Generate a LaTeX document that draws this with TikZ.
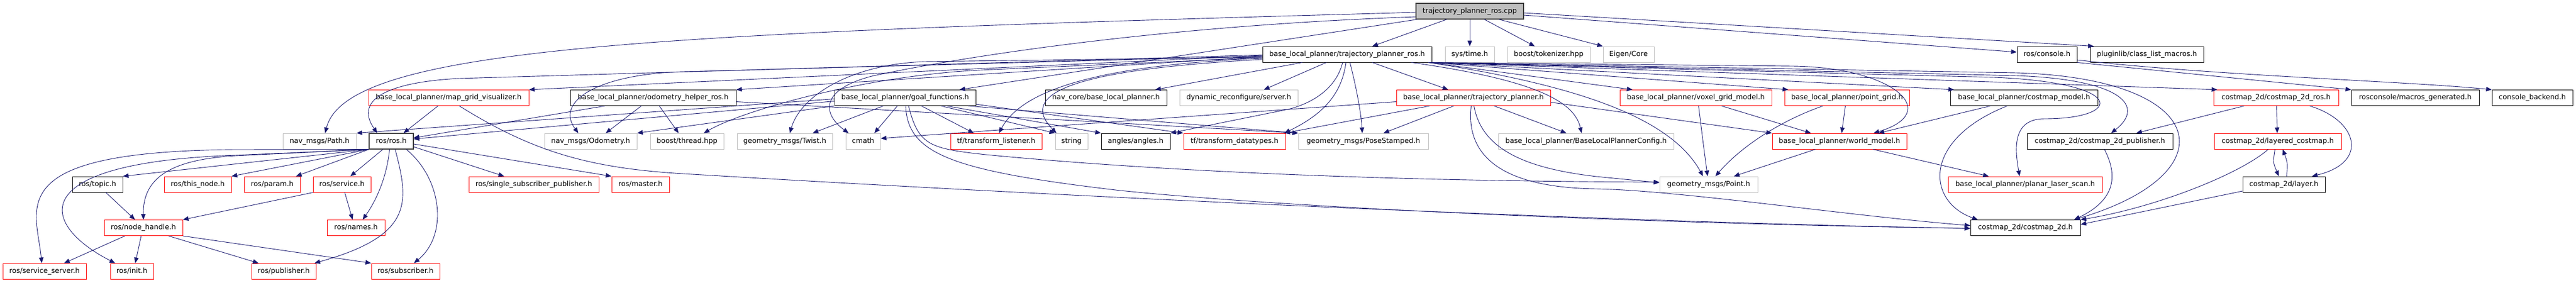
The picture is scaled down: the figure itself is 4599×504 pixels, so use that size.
\documentclass[tikz,border=0pt]{standalone}
\usepackage{fontspec}
\setmainfont{DejaVu Sans}
\usetikzlibrary{arrows.meta}
\definecolor{edgec}{HTML}{191970}
\definecolor{grayb}{HTML}{BFBFBF}
\definecolor{redb}{HTML}{FF0000}
\definecolor{darkb}{HTML}{404040}
\begin{document}
\begin{tikzpicture}[x=1pt,y=-1pt,
 box/.style={draw, rectangle, minimum height=28pt, inner sep=0pt, line width=1pt,
   font=\fontsize{12.6}{15}\selectfont, text height=9.3pt, text depth=2.7pt, fill=white},
 rb/.style={box, draw=redb},
 gb/.style={box, draw=grayb},
 kb/.style={box, draw=black},
 e/.style={draw=edgec, line width=0.9pt, -{Triangle[length=10pt,width=8pt]}},
]
\useasboundingbox (0,0) rectangle (4599,504);
% row 0
\node[box, draw=darkb, fill=grayb, line width=1.2pt, minimum width=192pt] (cpp) at (2624,20) {trajectory\_planner\_ros.cpp};
% row 1
\node[kb, minimum width=302pt] (tpr) at (2405,97) {base\_local\_planner/trajectory\_planner\_ros.h};
\node[gb, minimum width=88pt] (systime) at (2624,97) {sys/time.h};
\node[gb, minimum width=148pt] (tokenizer) at (2765,97) {boost/tokenizer.hpp};
\node[gb, minimum width=91pt] (eigen) at (2907.5,97) {Eigen/Core};
\node[kb, minimum width=107pt] (console) at (3654.5,97) {ros/console.h};
\node[kb, minimum width=202pt] (pluginlib) at (3833,97) {pluginlib/class\_list\_macros.h};
% row 2
\node[rb, minimum width=286pt] (mgv) at (801,174.5) {base\_local\_planner/map\_grid\_visualizer.h};
\node[kb, minimum width=296pt] (odomh) at (1166,174.5) {base\_local\_planner/odometry\_helper\_ros.h};
\node[kb, minimum width=252pt] (goal) at (1616,174.5) {base\_local\_planner/goal\_functions.h};
\node[kb, minimum width=217pt] (navcore) at (1974.5,174.5) {nav\_core/base\_local\_planner.h};
\node[gb, minimum width=211pt] (dynrec) at (2211.5,174.5) {dynamic\_reconfigure/server.h};
\node[rb, minimum width=275pt] (tplanner) at (2630.5,174.5) {base\_local\_planner/trajectory\_planner.h};
\node[rb, minimum width=271pt] (voxel) at (3027.5,174.5) {base\_local\_planner/voxel\_grid\_model.h};
\node[rb, minimum width=223pt] (pointgrid) at (3297.5,174.5) {base\_local\_planner/point\_grid.h};
\node[kb, minimum width=263pt] (costmodel) at (3613.5,174.5) {base\_local\_planner/costmap\_model.h};
\node[rb, minimum width=223pt] (cros) at (4063.5,174.5) {costmap\_2d/costmap\_2d\_ros.h};
\node[kb, minimum width=228pt] (macros) at (4312,174.5) {rosconsole/macros\_generated.h};
\node[kb, minimum width=144pt] (backend) at (4521,174.5) {console\_backend.h};
% row 3
\node[gb, minimum width=131pt] (path) at (570.5,252) {nav\_msgs/Path.h};
\node[kb, draw=darkb, line width=1.2pt, minimum width=79pt] (rosh) at (698.5,252) {ros/ros.h};
\node[gb, minimum width=165pt] (odometry) at (1054.5,252) {nav\_msgs/Odometry.h};
\node[gb, minimum width=131pt] (thread) at (1226.5,252) {boost/thread.hpp};
\node[gb, minimum width=170pt] (twist) at (1401,252) {geometry\_msgs/Twist.h};
\node[gb, minimum width=62pt] (cmath) at (1541,252) {cmath};
\node[rb, minimum width=163pt] (tflisten) at (1778.5,252) {tf/transform\_listener.h};
\node[gb, minimum width=58pt] (string) at (1913,252) {string};
\node[kb, minimum width=123pt] (angles) at (2027.5,252) {angles/angles.h};
\node[rb, minimum width=182pt] (tfdata) at (2204,252) {tf/transform\_datatypes.h};
\node[gb, minimum width=232pt] (posest) at (2434,252) {geometry\_msgs/PoseStamped.h};
\node[gb, minimum width=313pt] (blpconf) at (2831.5,252) {base\_local\_planner/BaseLocalPlannerConfig.h};
\node[rb, minimum width=240pt] (worldm) at (3284,252) {base\_local\_planner/world\_model.h};
\node[kb, minimum width=260pt] (cpub) at (3749,252) {costmap\_2d/costmap\_2d\_publisher.h};
\node[rb, minimum width=227pt] (layered) at (4066.5,252) {costmap\_2d/layered\_costmap.h};
% row 4
\node[kb, minimum width=90pt] (topic) at (174,329) {ros/topic.h};
\node[rb, minimum width=120pt] (thisnode) at (353,329) {ros/this\_node.h};
\node[rb, minimum width=100pt] (param) at (486,329) {ros/param.h};
\node[rb, minimum width=103pt] (service) at (610.5,329) {ros/service.h};
\node[rb, minimum width=232pt] (ssp) at (953,329) {ros/single\_subscriber\_publisher.h};
\node[rb, minimum width=103pt] (master) at (1143.5,329) {ros/master.h};
\node[gb, minimum width=175pt] (point) at (3050.5,329) {geometry\_msgs/Point.h};
\node[rb, minimum width=275pt] (planar) at (3615.5,329) {base\_local\_planner/planar\_laser\_scan.h};
\node[kb, minimum width=147pt] (layer) at (4077.5,329) {costmap\_2d/layer.h};
% row 5
\node[rb, minimum width=140pt] (nodeh) at (256,406.5) {ros/node\_handle.h};
\node[rb, minimum width=103pt] (names) at (635.5,406.5) {ros/names.h};
\node[kb, minimum width=196pt] (costmap) at (3616,406.5) {costmap\_2d/costmap\_2d.h};
% row 6
\node[rb, minimum width=149pt] (srvs) at (79.5,484) {ros/service\_server.h};
\node[rb, minimum width=77pt] (init) at (235.5,484) {ros/init.h};
\node[rb, minimum width=115pt] (publisher) at (506.5,484) {ros/publisher.h};
\node[rb, minimum width=122pt] (subscriber) at (724,484) {ros/subscriber.h};

% ---- edges from cpp
\draw[e] ([xshift=-41pt]cpp.south) -- ([xshift=45pt]tpr.north);
\draw[e] (cpp.south) -- (systime.north);
\draw[e] ([xshift=26pt]cpp.south) -- ([xshift=-25pt]tokenizer.north);
\draw[e] ([xshift=52pt]cpp.south) -- (eigen.north west);
\draw[e] ([yshift=-7pt]cpp.east) -- ([yshift=4pt]console.west);
\draw[e] ([yshift=-3pt]cpp.east) -- ([xshift=-95pt]pluginlib.north);
\draw[e] ([yshift=-2pt]cpp.west) .. controls (1200,59) and (620,80) .. ([xshift=10pt]path.north);
\draw[e] ([xshift=-94pt]cpp.south) -- ([xshift=97pt]goal.north);
\draw[e] ([yshift=-10pt]cpp.west) .. controls (2100,45) and (1750,95) .. (1560,135) .. controls (1460,160) and (1470,205) .. ([xshift=-26pt]cmath.north);

% ---- edges from trajectory_planner_ros.h
\draw[e] ([xshift=45pt]tpr.south) -- ([xshift=-45pt]tplanner.north);
\draw[e] ([xshift=5pt]tpr.south) .. controls (2420,150) and (2430,200) .. ([xshift=-2pt]posest.north);
\draw[e] ([xshift=-37pt]tpr.south) -- ([xshift=45pt]dynrec.north);
\draw[e] ([xshift=-80pt]tpr.south) -- ([xshift=88pt]navcore.north);
\draw[e] ([xshift=-8pt]tpr.south) .. controls (2385,160) and (2340,185) .. (2300,195) -- (angles.north east);
\draw[e] ([xshift=-2pt]tpr.south) .. controls (2395,170) and (2360,205) .. ([xshift=89pt]tfdata.north);
\draw[e] ([xshift=115pt]tpr.south) .. controls (2720,140) and (2810,175) .. ([xshift=-8pt]blpconf.north);
\draw[e] ([xshift=-6pt]tpr.south east) .. controls (2800,150) and (2980,205) .. ([xshift=-10pt]point.north);
\draw[e] ([xshift=-6pt]tpr.south east) -- ([xshift=-113pt]voxel.north);
\draw[e] ([xshift=-6pt]tpr.south east) -- ([xshift=-105pt]pointgrid.north);
\draw[e] ([xshift=-6pt]tpr.south east) -- (3200,118) .. controls (3380,120) and (3470,200) .. ([xshift=61pt]worldm.north);
\draw[e] ([xshift=-6pt]tpr.south east) -- ([xshift=-125pt]costmodel.north);
\draw[e] ([xshift=-6pt]tpr.south east) -- (3560,138) .. controls (3800,148) and (3790,212) .. (3650,212) .. controls (3590,212) and (3598,270) .. ([xshift=-10pt]planar.north);
\draw[e] ([xshift=-6pt]tpr.south east) -- (3600,135) .. controls (3790,142) and (3830,190) .. ([xshift=20pt]cpub.north);
\draw[e] ([xshift=-6pt]tpr.south east) -- (3600,130) .. controls (3950,140) and (3980,310) .. ([xshift=87pt]costmap.north);
\draw[e] ([xshift=-6pt]tpr.south east) -- ([xshift=-105pt]cros.north);
\draw[e] ([yshift=-2pt]tpr.west) -- (mgv.north east);
\draw[e] ([yshift=-1pt]tpr.west) -- (820,140) .. controls (700,146) and (630,175) .. ([xshift=-25pt]rosh.north);
\draw[e] ([yshift=-4pt]tpr.west) -- (odomh.north east);
\draw[e] ([yshift=-3pt]tpr.west) -- (1220,128) .. controls (1070,132) and (990,180) .. ([xshift=-22pt]odometry.north);
\draw[e] ([yshift=-6pt]tpr.west) -- (1750,125) .. controls (1550,135) and (1330,195) .. ([xshift=30pt]thread.north);
\draw[e] ([yshift=-5pt]tpr.west) -- (1650,110) .. controls (1520,115) and (1430,170) .. ([xshift=9pt]twist.north);
\draw[e] ([yshift=-7pt]tpr.west) .. controls (2000,115) and (1830,150) .. ([xshift=5pt]tflisten.north);
\draw[e] ([yshift=-9pt]tpr.west) .. controls (1900,125) and (1820,170) .. ([xshift=-27pt]string.north);

% ---- trajectory_planner.h
\draw[e] ([xshift=-35pt]tplanner.south) -- ([xshift=36pt]posest.north);
\draw[e] ([xshift=37pt]tplanner.south) -- ([xshift=-35pt]blpconf.north);
\draw[e] ([yshift=-7pt]tplanner.west) -- ([yshift=5pt]cmath.east);
\draw[e] ([xshift=-78pt]tplanner.south) -- ([xshift=89pt]tfdata.north);
\draw[e] ([xshift=1pt]tplanner.south) .. controls (2645,265) and (2720,300) .. (2850,315) -- ([yshift=3pt]point.west);
\draw[e] ([xshift=-4pt]tplanner.south) .. controls (2615,290) and (2700,335) .. (2850,337) .. controls (3000,340) and (3300,385) .. ([yshift=4pt]costmap.west);
\draw[e] ([yshift=-8pt]tplanner.east) -- (worldm.north west);

% ---- goal_functions.h
\draw[e] ([xshift=29pt]goal.south) -- ([xshift=-40pt]tflisten.north);
\draw[e] ([xshift=64pt]goal.south) -- (string.north west);
\draw[e] ([xshift=74pt]goal.south) -- (angles.north west);
\draw[e] ([xshift=112pt]goal.south) -- (posest.north west);
\draw[e] ([yshift=3pt]goal.south east) -- (tfdata.north west);
\draw[e] ([xshift=-39pt]goal.south) -- ([xshift=50pt]twist.north);
\draw[e] ([xshift=-14pt]goal.south) -- ([xshift=20pt]cmath.north);
\draw[e] ([xshift=6pt]goal.south) .. controls (1640,260) and (1660,265) .. (1760,276) .. controls (2200,318) and (2700,324) .. ([yshift=4pt]point.west);
\draw[e] ([xshift=1pt]goal.south) .. controls (1620,275) and (1700,305) .. (2000,340) .. controls (2350,375) and (3000,400) .. ([yshift=-1pt]costmap.west);
\draw[e] ([yshift=-6pt]goal.west) -- ([yshift=4pt]rosh.east);
\draw[e] (goal.south west) -- (odometry.north east);
\draw[e] ([yshift=-2pt]goal.west) -- (path.north east);

% ---- odometry_helper_ros.h
\draw[e] ([xshift=-86pt]odomh.south) -- ([yshift=6pt]rosh.east);
\draw[e] ([xshift=-21pt]odomh.south) -- ([xshift=27pt]odometry.north);
\draw[e] ([xshift=11pt]odomh.south) -- ([xshift=-15pt]thread.north);
\draw[e] ([yshift=-7pt]odomh.east) -- (posest.north west);

% ---- map_grid_visualizer.h
\draw[e] ([xshift=-19pt]mgv.south) -- ([xshift=22pt]rosh.north);
\draw[e] ([xshift=19pt]mgv.south) .. controls (950,270) and (1050,300) .. (1220,310) .. controls (1800,345) and (2800,395) .. ([yshift=-1pt]costmap.west);

% ---- ros/ros.h
\draw[e] (rosh.south west) -- (topic.north east);
\draw[e] (rosh.south west) -- (thisnode.north east);
\draw[e] (rosh.south west) -- ([xshift=-8pt]param.north east);
\draw[e] ([xshift=-15pt]rosh.south) -- ([xshift=15pt]service.north);
\draw[e] ([xshift=-3pt]rosh.south) .. controls (690,320) and (670,360) .. ([xshift=12pt]names.north);
\draw[e] ([xshift=7pt]rosh.south) .. controls (730,360) and (740,420) .. ([xshift=-3pt]publisher.north east);
\draw[e] ([xshift=27pt]rosh.south) .. controls (790,320) and (800,420) .. ([xshift=15pt]subscriber.north);
\draw[e] ([yshift=-10pt]rosh.east) -- ([xshift=-53pt]ssp.north);
\draw[e] ([yshift=-5pt]rosh.east) -- (master.north west);
\draw[e] (rosh.south west) -- (420,278) .. controls (300,285) and (255,320) .. (nodeh.north);
\draw[e] (rosh.south west) -- (420,267) .. controls (0,270) and (65,370) .. ([xshift=-5pt]srvs.north);
\draw[e] (rosh.south west) -- (420,277) .. controls (40,290) and (70,400) .. ([xshift=-30pt]init.north);

% ---- ros internals
\draw[e] ([xshift=15pt]topic.south) -- ([xshift=-15pt]nodeh.north);
\draw[e] (service.south west) -- (nodeh.north east);
\draw[e] ([xshift=5pt]service.south) -- ([xshift=-6pt]names.north);
\draw[e] ([xshift=-33pt]nodeh.south) -- ([xshift=35pt]srvs.north);
\draw[e] ([xshift=-4pt]nodeh.south) -- ([xshift=6pt]init.north);
\draw[e] ([xshift=45pt]nodeh.south) -- ([xshift=-45pt]publisher.north);
\draw[e] (nodeh.south east) -- (subscriber.north west);

% ---- right part
\draw[e] ([xshift=5pt]voxel.south) .. controls (3040,250) .. ([xshift=-2pt]point.north);
\draw[e] ([xshift=46pt]voxel.south) -- ([xshift=-51pt]worldm.north);
\draw[e] ([xshift=-3pt]pointgrid.south) -- ([xshift=4pt]worldm.north);
\draw[e] ([xshift=-43pt]pointgrid.south) .. controls (3180,215) and (3110,260) .. ([xshift=12pt]point.north);
\draw[e] ([xshift=-43pt]worldm.south) -- ([xshift=45pt]point.north);
\draw[e] ([xshift=60pt]worldm.south) -- ([xshift=-65pt]planar.north);
\draw[e] ([xshift=-60pt]costmodel.south) -- ([xshift=70pt]worldm.north);
\draw[e] ([xshift=-30pt]costmodel.south) .. controls (3430,250) and (3440,360) .. ([xshift=-85pt]costmap.north);
\draw[e] ([xshift=8pt]cpub.south) .. controls (3785,320) and (3770,360) .. ([xshift=87pt]costmap.north);
\draw[e] ([xshift=-57pt]cros.south) -- ([xshift=65pt]cpub.north);
\draw[e] ([xshift=1pt]cros.south) -- ([xshift=-1pt]layered.north);
\draw[e] ([xshift=60pt]cros.south) .. controls (4210,215) and (4230,290) .. ([xshift=50pt]layer.north);
\draw[e] ([xshift=-5pt]layered.south) .. controls (4058,290) .. ([xshift=-9pt]layer.north);
\draw[e] ([xshift=5pt]layer.north) .. controls (4084,290) .. ([xshift=9pt]layered.south);
\draw[e] ([xshift=-17pt]layered.south) .. controls (4000,310) and (3850,370) .. (costmap.north east);
\draw[e] ([yshift=-12pt]layer.west) -- ([yshift=6pt]costmap.east);
\draw[e] (console.south east) -- (macros.north west);
\draw[e] ([yshift=-10pt]console.east) .. controls (3950,135) and (4300,145) .. (backend.north west);
\end{tikzpicture}
\end{document}
